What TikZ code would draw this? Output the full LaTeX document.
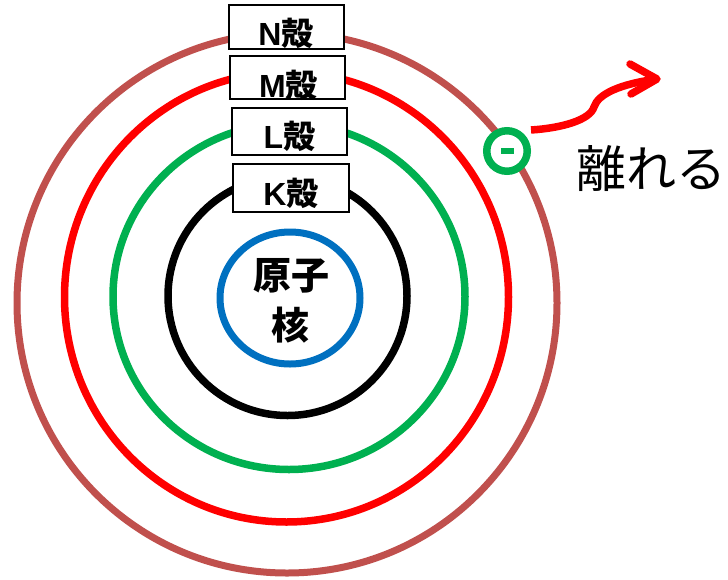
\documentclass[tikz,border=0pt]{standalone}
\usepackage{fontspec}
\setmainfont{Liberation Sans}
\newfontfamily\cjk{Noto Sans CJK JP}
\definecolor{shN}{HTML}{C0504D}
\definecolor{shM}{HTML}{FF0000}
\definecolor{shL}{HTML}{00B050}
\definecolor{nucblue}{HTML}{0070C0}
\begin{document}
\begin{tikzpicture}[x=1pt,y={(0pt,-1pt)},
  shell/.style={line width=7.5pt},
  labelbox/.style={draw=black, line width=1.4pt, fill=white, inner sep=0pt, minimum width=115pt},
  boxtext/.style={anchor=base, inner sep=0pt, font=\fontsize{32}{32}\selectfont\bfseries},
  nuctext/.style={anchor=base, inner sep=0pt, font=\cjk\bfseries\fontsize{38}{38}\selectfont},
]
\useasboundingbox (0,0) rectangle (728,579);
% shells
\draw[shN, line width=7pt] (287,303) circle[radius=270pt];
\draw[shM, shell] (286.5,297) ellipse[x radius=222pt, y radius=225pt];
\draw[shL, shell] (289,296.5) ellipse[x radius=176pt, y radius=173pt];
\draw[black, shell] (287.5,296) circle[radius=119.5pt];
\draw[nucblue, line width=7pt] (290,298) ellipse[x radius=70pt, y radius=66pt];
% nucleus text
\node[nuctext] (nuc1) at (291,289) {原子};
\node[nuctext] (nuc2) at (290,339) {核};
% shell label boxes
\node[labelbox, minimum height=44pt] (boxN) at (286.5,27) {};
\node[labelbox, minimum height=43pt] (boxM) at (287.5,77.5) {};
\node[labelbox, minimum height=47pt] (boxL) at (289.5,131.5) {};
\node[labelbox, minimum height=48pt, minimum width=116pt] (boxK) at (291,188) {};
\node[boxtext] (tN) at (286,45) {N{\cjk\bfseries 殻}};
\node[boxtext] (tM) at (288.5,97) {M{\cjk\bfseries 殻}};
\node[boxtext] (tL) at (289.5,148) {L{\cjk\bfseries 殻}};
\node[boxtext] (tK) at (291,205) {K{\cjk\bfseries 殻}};
% electron
\node[circle, draw=shL, line width=7.5pt, fill=white, minimum size=40.5pt, inner sep=0pt] (el) at (507,151) {\textcolor{shL}{\rule{13pt}{6.5pt}}};
% leaving arrow
\coordinate (astart) at (531,130);
\coordinate (atip) at (657,79);
\coordinate (armA) at (630,64);
\coordinate (armB) at (631,94);
\draw[shM, line width=7.5pt] (astart) .. controls (562,128) and (590,120) .. (594,107) .. controls (598,94) and (620,84) .. (atip);
\draw[shM, line width=7.5pt, line cap=round, line join=round] (armA) -- (atip) -- (armB);
% label
\node[anchor=base, inner sep=0pt, font=\cjk\fontsize{50}{50}\selectfont] (leave) at (651,187) {離れる};
\end{tikzpicture}
\end{document}
